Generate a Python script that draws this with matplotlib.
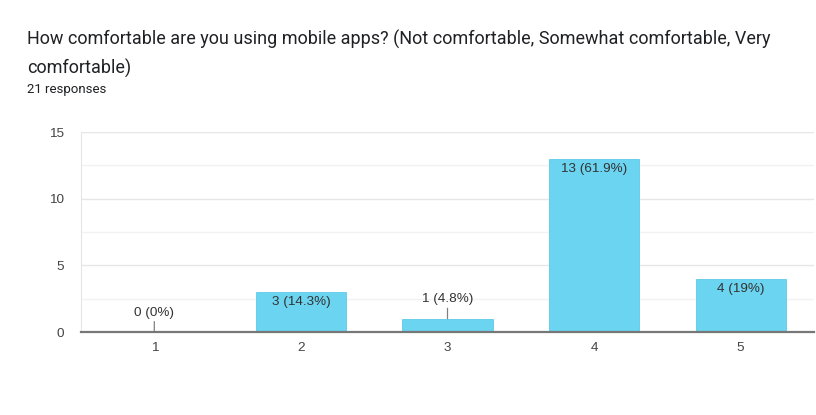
import matplotlib.pyplot as plt
from matplotlib.ticker import MultipleLocator

plt.rcParams['font.family'] = ['Roboto', 'DejaVu Sans']
chart_font = ['Liberation Sans', 'DejaVu Sans']

# survey answers (scale 1-5) and their counts
categories = ["1", "2", "3", "4", "5"]
counts = [0, 3, 1, 13, 4]
total = 21
title = "How comfortable are you using mobile apps? (Not comfortable, Somewhat comfortable, Very\ncomfortable)"
subtitle = f"{total} responses"

bar_color = "#6bd4f0"

fig = plt.figure(figsize=(8.16, 4.15), dpi=100)
ax = fig.add_axes([81 / 816, 1 - 332 / 415, 733 / 816, 200 / 415])

x = range(len(categories))
ax.bar(x, counts, width=0.615, color=bar_color, edgecolor="#5fcbe8", linewidth=0.6, zorder=3)

for i, c in enumerate(counts):
    pct = c / total * 100
    pct_txt = f"{pct:.1f}".rstrip("0").rstrip(".")
    label = f"{c} ({pct_txt}%)"
    if c >= 2:
        ax.annotate(label, (i, c), xytext=(0, -3), textcoords="offset points",
                    ha="center", va="top", fontsize=9.7, color="#333333", zorder=4,
                    family=chart_font)
    else:
        ax.annotate(label, (i, c), xytext=(0, 9.5), textcoords="offset points",
                    ha="center", va="bottom", fontsize=9.7, color="#333333", zorder=4,
                    family=chart_font,
                    arrowprops=dict(arrowstyle="-", color="#808080", lw=0.9,
                                    shrinkA=0, shrinkB=0))

ax.set_xlim(-0.5, len(categories) - 0.5)
ax.set_ylim(0, 15)
ax.set_xticks(list(x))
ax.set_xticklabels(categories)
ax.yaxis.set_major_locator(MultipleLocator(5))
ax.yaxis.set_minor_locator(MultipleLocator(2.5))
ax.grid(axis="y", which="major", color="#e6e6e6", lw=1, zorder=0)
ax.grid(axis="y", which="minor", color="#f2f2f2", lw=1, zorder=0)
ax.tick_params(axis="both", which="both", length=0, labelsize=9.7, labelcolor="#444444")
ax.tick_params(axis="x", pad=7)
ax.tick_params(axis="y", pad=12)
for t in ax.get_xticklabels() + ax.get_yticklabels():
    t.set_family(chart_font)

for s in ["top", "right"]:
    ax.spines[s].set_visible(False)
ax.spines["left"].set_color("#e6e6e6")
ax.spines["bottom"].set_color("#777777")
ax.spines["bottom"].set_linewidth(1.6)
ax.spines["bottom"].set_zorder(5)

fig.text(27 / 816, 1 - 30 / 415, title, fontsize=13, color="#202124",
         va="top", ha="left", linespacing=1.65)
fig.text(27 / 816, 1 - 83 / 415, subtitle, fontsize=9.5, color="#202124",
         va="top", ha="left")

fig.savefig("out.png", dpi=100)
